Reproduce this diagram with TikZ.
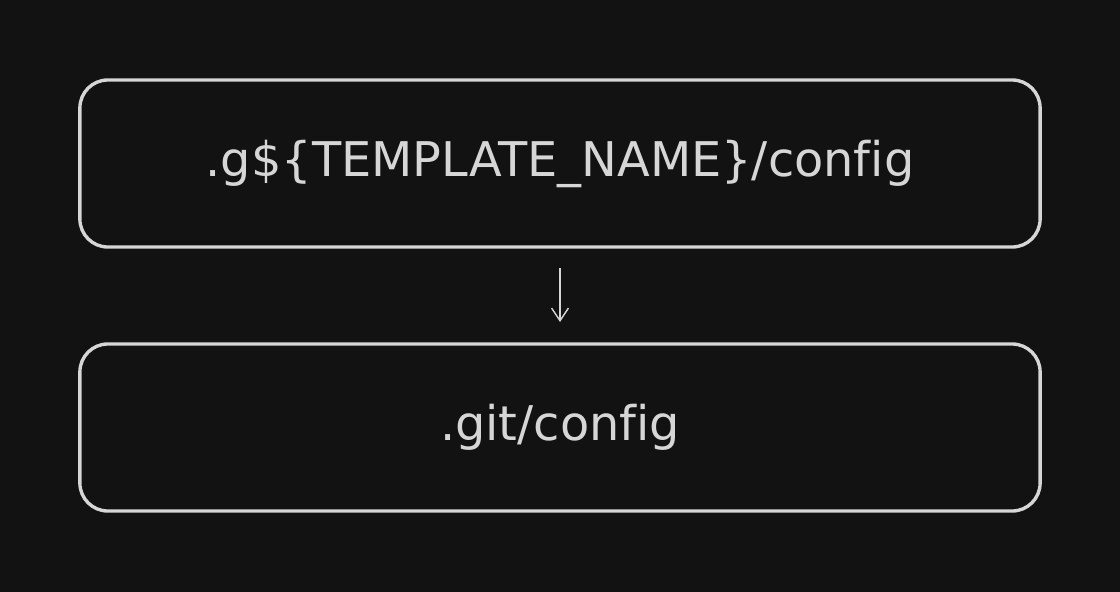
\documentclass[tikz,border=0pt]{standalone}
\usepackage{fontspec}
\setmainfont{DejaVu Sans}[Ligatures=NoCommon]
\usetikzlibrary{arrows.meta}
\definecolor{bg}{HTML}{121212}
\definecolor{ink}{HTML}{D6D6D6}
\tikzstyle{bx}=[draw=ink,line width=2.4pt,rounded corners=0.7cm,minimum width=24cm,minimum height=4.175cm,inner sep=0pt,text=ink,font=\fontsize{34}{40}\selectfont]
\tikzstyle{arr}=[draw=ink,line width=1pt,-{Straight Barb[length=9pt,width=12pt]}]

\begin{document}
\begin{tikzpicture}[x=0.025cm,y=-0.025cm]
\fill[bg] (0,0) rectangle (1120,592);
\useasboundingbox (0,0) rectangle (1120,592);
\node[bx] (tmpl) at (560,163.5) {.g\$\{TEMPLATE\_NAME\}/config};
\node[bx] (git) at (560,427.5) {.git/config};
\coordinate (top) at (560,268);
\coordinate (bot) at (560,322);
\draw[arr] (top) -- (bot);
\end{tikzpicture}
\end{document}
